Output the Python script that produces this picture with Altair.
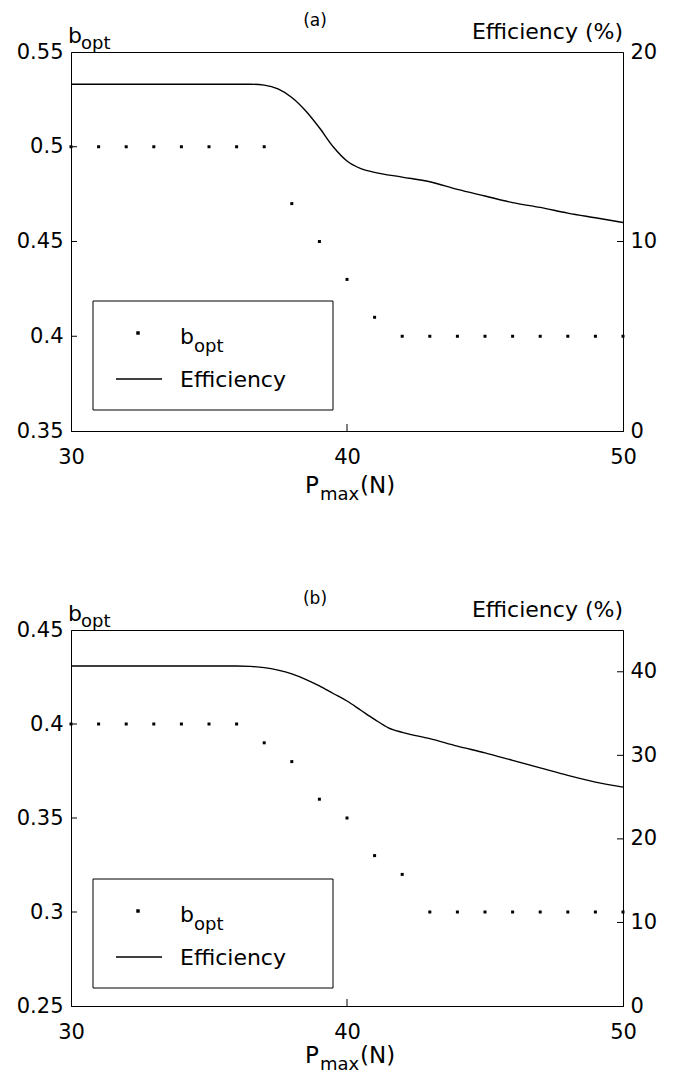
import altair as alt
import pandas as pd

# ---------------- data ----------------
P_points = list(range(30, 51))
b_opt_a = [0.50] * 8 + [0.47, 0.45, 0.43, 0.41] + [0.40] * 9
b_opt_b = [0.40] * 7 + [0.39, 0.38, 0.36, 0.35, 0.33, 0.32] + [0.30] * 8

eff_x_a = [30, 32, 34, 36, 36.5, 37, 37.5, 38, 38.5, 39, 39.5, 40, 40.5, 41,
           42, 43, 44, 45, 46, 47, 48, 49, 50]
eff_a = [18.3, 18.3, 18.3, 18.3, 18.3, 18.25, 18.05, 17.6, 16.9, 16.0, 15.0,
         14.25, 13.85, 13.65, 13.4, 13.15, 12.75, 12.4, 12.05, 11.8, 11.5,
         11.25, 11.0]

eff_x_b = [30, 32, 34, 36, 36.5, 37, 37.5, 38, 38.5, 39, 39.5, 40, 40.5, 41,
           41.5, 42, 43, 44, 45, 46, 47, 48, 49, 50]
eff_b = [40.7, 40.7, 40.7, 40.7, 40.65, 40.5, 40.2, 39.75, 39.1, 38.3, 37.4,
         36.5, 35.4, 34.3, 33.3, 32.75, 32.0, 31.1, 30.3, 29.4, 28.5, 27.6,
         26.8, 26.2]

x_ticks = [30, 40, 50]
x_inner = [40]

left_ticks_a = [0.35, 0.4, 0.45, 0.5, 0.55]
left_inner_a = [0.4, 0.45, 0.5]
right_ticks_a = [0, 10, 20]
right_inner_a = [10]

left_ticks_b = [0.25, 0.3, 0.35, 0.4, 0.45]
left_inner_b = [0.3, 0.35, 0.4]
right_ticks_b = [0, 10, 20, 30, 40]
right_inner_b = [10, 20, 30, 40]

W = 552
FONT = "DejaVu Sans"
one = pd.DataFrame({"k": [0]})


def txt(s, x, y, size=20, align="left", baseline="alphabetic"):
    return alt.Chart(one).mark_text(
        text=s, font=FONT, fontSize=size, align=align, baseline=baseline,
        color="black").encode(x=alt.value(x), y=alt.value(y))


def panel(tag, H, pmax_off, b_vals, b_dom, b_ticks, b_inner, ex, ey, e_dom,
          e_ticks, e_inner):
    xs = alt.Scale(domain=[30, 50], nice=False, zero=False)
    ys_b = alt.Scale(domain=b_dom, nice=False, zero=False)
    ys_e = alt.Scale(domain=e_dom, nice=False, zero=False)
    xaxis = alt.Axis(values=x_ticks, title=None, labelFlush=False, labelPadding=15,
                     ticks=False, grid=False, labelOverlap=False)

    df_b = pd.DataFrame({"P": P_points, "b": b_vals})
    df_e = pd.DataFrame({"P": ex, "eff": ey})

    pts = alt.Chart(df_b).mark_square(size=9, color="black", opacity=1).encode(
        x=alt.X("P:Q", scale=xs, axis=xaxis),
        y=alt.Y("b:Q", scale=ys_b,
                axis=alt.Axis(values=b_ticks, format=".2~f", title=None, ticks=False,
                              grid=False, labelPadding=8, labelFlush=False,
                              labelOverlap=False, orient="left")))
    line = alt.Chart(df_e).mark_line(color="black", strokeWidth=1.4,
                                     interpolate="monotone").encode(
        x=alt.X("P:Q", scale=xs, axis=xaxis),
        y=alt.Y("eff:Q", scale=ys_e,
                axis=alt.Axis(values=e_ticks, title=None, ticks=False, grid=False,
                              labelPadding=7, labelFlush=False, labelOverlap=False,
                              orient="right")))

    lt = alt.Chart(pd.DataFrame({"v": b_inner})).mark_rule(color="black").encode(
        y=alt.Y("v:Q", scale=ys_b, axis=None), x=alt.value(0), x2=alt.value(6))
    rt = alt.Chart(pd.DataFrame({"v": e_inner})).mark_rule(color="black").encode(
        y=alt.Y("v:Q", scale=ys_e, axis=None), x=alt.value(W - 6), x2=alt.value(W))
    bt = alt.Chart(pd.DataFrame({"P": x_inner})).mark_rule(color="black").encode(
        x=alt.X("P:Q", scale=xs, axis=xaxis), y=alt.value(H), y2=alt.value(H - 7))

    texts = [
        txt(tag, 244, -26, size=17, align="center"),
        txt("b", -3, -9, size=22),
        txt("opt", 10, -3, size=18),
        txt("Efficiency (%)", W, -13, size=22, align="right"),
        txt("P", 234, H + pmax_off, size=23),
        txt("max", 249, H + pmax_off + 7, size=18),
        txt("(N)", 289, H + pmax_off, size=23),
    ]

    legend = [
        alt.Chart(one).mark_rect(fill="white", stroke="black", strokeWidth=1).encode(
            x=alt.value(22), x2=alt.value(262), y=alt.value(249), y2=alt.value(358)),
        alt.Chart(one).mark_square(size=12, color="black", opacity=1).encode(
            x=alt.value(67), y=alt.value(281)),
        alt.Chart(one).mark_rule(color="black", strokeWidth=1.4).encode(
            x=alt.value(45), x2=alt.value(91), y=alt.value(327)),
        txt("b", 109, 292, size=22),
        txt("opt", 123, 300, size=18),
        txt("Efficiency", 109, 335, size=22),
    ]

    return alt.layer(pts, line, lt, rt, bt, *legend, *texts).resolve_scale(
        y="independent").properties(width=W, height=H)


pa = panel("(a)", 379, 62, b_opt_a, [0.35, 0.55], left_ticks_a, left_inner_a,
           eff_x_a, eff_a, [0, 20], right_ticks_a, right_inner_a)
pb = panel("(b)", 376, 57, b_opt_b, [0.25, 0.45], left_ticks_b, left_inner_b,
           eff_x_b, eff_b, [0, 45], right_ticks_b, right_inner_b)

chart = alt.vconcat(pa, pb, spacing=84).properties(
    padding={"left": 7, "top": 3, "right": 5, "bottom": 0}
).configure(background="white").configure_view(
    stroke="black", strokeWidth=1
).configure_axis(
    labelFont=FONT, labelFontSize=21, labelColor="black", domainColor="black",
    domainWidth=1
)

chart.save("out.html", embed_options={"renderer": "svg", "actions": False})
